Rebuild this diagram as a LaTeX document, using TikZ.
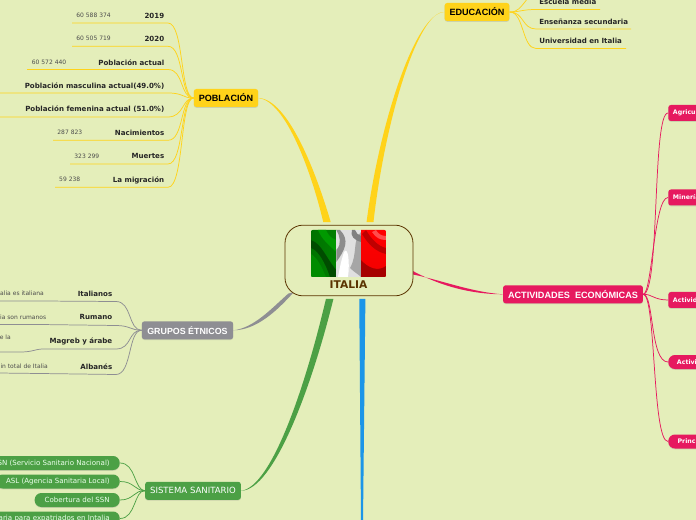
\documentclass[tikz,border=0pt]{standalone}
\usepackage{fontspec}
\setmainfont{DejaVu Sans}
\newfontfamily\topicfont{Liberation Sans}
\usetikzlibrary{shadows}
\definecolor{paper}{HTML}{E4EEBA}
\definecolor{yellowtopic}{HTML}{FFD31A}
\definecolor{greytopic}{HTML}{8E8E93}
\definecolor{greentopic}{HTML}{4CA045}
\definecolor{pinktopic}{HTML}{E6195F}
\definecolor{bluetopic}{HTML}{1B95E8}
\definecolor{browntopic}{HTML}{5A3300}
\pgfdeclarelayer{paperlayer}
\pgfdeclarelayer{branchlayer}
\pgfsetlayers{paperlayer,branchlayer,main}

\begin{document}
\begin{tikzpicture}[
					x=0.75pt, y=-0.75pt,
					centre/.style={rectangle, draw=browntopic, line width=0.6pt, fill=paper, rounded corners=13.5pt, minimum width=96pt, minimum height=53pt},
					topic/.style={rectangle, rounded corners=2pt, minimum height=13.5pt, inner xsep=3.75pt, inner ysep=0pt, font=\topicfont\bfseries\fontsize{6.8pt}{8pt}\selectfont, drop shadow={shadow xshift=0pt, shadow yshift=-0.6pt, opacity=0.25}},
					label/.style={anchor=east, inner sep=0pt, yshift=0.4pt, text=black!85, font=\bfseries\fontsize{5.3pt}{6pt}\selectfont},
					value/.style={anchor=east, inner sep=0pt, yshift=0.3pt, text=black!70, font=\fontsize{4.5pt}{6pt}\selectfont},
					pillgreen/.style={rectangle, anchor=east, fill=greentopic, text=white!92!green, rounded corners=5pt, minimum height=10.5pt, inner xsep=7.5pt, inner ysep=0pt, font=\fontsize{5.3pt}{6pt}\selectfont, drop shadow={shadow xshift=0pt, shadow yshift=-0.6pt, opacity=0.25}},
					pinkbox/.style={rectangle, anchor=west, fill=pinktopic, text=white, text width=40pt, minimum height=12pt, inner xsep=3.5pt, inner ysep=0pt, font=\bfseries\fontsize{4.7pt}{6pt}\selectfont, drop shadow={shadow xshift=0pt, shadow yshift=-0.6pt, opacity=0.25}}
				]
				\path[use as bounding box] (0,0) rectangle (696,520);
				\begin{pgfonlayer}{paperlayer}
				\fill[paper] (0,0) rectangle (696,520);
				\end{pgfonlayer}
				\clip (0,0) rectangle (696,520);

				\node[centre] (italia) at (349,260.5) {};
				\node[inner sep=0pt, minimum width=56pt, minimum height=35pt] (flag) at (348.5,253.5) {};
				\node[inner sep=0pt, text=browntopic, font=\bfseries\fontsize{8pt}{9pt}\selectfont] (italiatext) at (348.5,285) {ITALIA};
				\begin{scope}
				\clip[rounded corners=1.5pt] (flag.south west) rectangle (flag.north east);
				\shade[left color=green!45!black, right color=green!50!black] (311,230) rectangle (336.3,277);
				\fill[green!30!black] (311,240) .. controls (322,244) and (326,258) .. (336.3,270) -- (336.3,277) -- (330,277) .. controls (325,262) and (318,250) .. (311,248) -- cycle;
				\fill[green!60!black] (318,230) .. controls (322,240) and (330,246) .. (336.3,252) -- (336.3,240) .. controls (330,238) and (328,234) .. (326,230) -- cycle;
				\fill[green!55!black] (311,254) .. controls (318,258) and (322,268) .. (326,277) -- (311,277) -- cycle;
				\fill[black!12] (336.3,230) rectangle (361,277);
				\fill[black!45] (340,230) .. controls (350,240) and (345,250) .. (336.3,262) -- (336.3,250) .. controls (342,244) and (340,236) .. (336.3,230) -- cycle;
				\fill[black!35] (361,232) .. controls (352,240) and (358,254) .. (350,268) .. controls (354,272) and (358,274) .. (361,277) -- cycle;
				\fill[white] (344,252) .. controls (348,246) and (350,262) .. (348,277) -- (338,277) .. controls (340,266) and (342,258) .. (344,252) -- cycle;
				\fill[black!50] (352,230) .. controls (350,236) and (354,240) .. (361,242) -- (361,236) .. controls (358,235) and (356,233) .. (355,230) -- cycle;
				\shade[top color=red, bottom color=red!95!black] (361,230) rectangle (386,277);
				\fill[red!65!black] (361,260) .. controls (368,268) and (378,272) .. (386,266) -- (386,277) -- (361,277) -- cycle;
				\fill[red!75!black] (366,230) .. controls (372,240) and (378,246) .. (386,248) -- (386,254) .. controls (376,252) and (368,244) .. (362,234) -- cycle;
				\fill[red!70!white] (372,232) .. controls (376,238) and (380,240) .. (386,240) -- (386,236) .. controls (382,236) and (378,234) .. (376,230) -- cycle;
				\end{scope}

				\coordinate (cpoblacion) at ([xshift=-16.5pt]italia.north);
				\coordinate (ceducacion) at ([xshift=15.75pt]italia.north);
				\coordinate (cgrupos) at ([xshift=-43.5pt, yshift=5pt]italia.south);
				\coordinate (csistema) at ([xshift=-14.5pt]italia.south);
				\coordinate (cactividades) at ([yshift=-8.6pt]italia.east);
				\coordinate (cfondo) at ([xshift=10pt]italia.south);
				\coordinate (efondo) at (363,522);

				\node[topic, fill=yellowtopic, text=black] (poblacion) at (226,98) {POBLACIÓN};
				\node[topic, fill=yellowtopic, text=black] (educacion) at (477,12) {EDUCACIÓN};
				\node[topic, fill=greytopic, text=white, font=\topicfont\bfseries\fontsize{6.65pt}{8pt}\selectfont, minimum width=68.5pt] (grupos) at (187.5,330.3) {GRUPOS ÉTNICOS};
				\node[topic, fill=greentopic, text=white, font=\fontsize{6.4pt}{8pt}\selectfont] (sistema) at (193,490.8) {SISTEMA SANITARIO};
				\node[topic, fill=pinktopic, text=white, font=\topicfont\bfseries\fontsize{6.85pt}{8pt}\selectfont] (actividades) at (573,294.3) {ACTIVIDADES\ \ ECONÓMICAS};

				\begin{pgfonlayer}{branchlayer}
				\fill[yellowtopic] (poblacion.east) .. controls (288,99) and (316,172) .. ([xshift=2.8pt,yshift=2pt]cpoblacion) -- ([xshift=-2.8pt,yshift=2pt]cpoblacion) .. controls (312,174) and (286,101) .. (poblacion.east) -- cycle;
				\fill[yellowtopic] (educacion.west) .. controls (418,11) and (385,120) .. ([xshift=2.6pt,yshift=2pt]ceducacion) -- ([xshift=-2.6pt,yshift=2pt]ceducacion) .. controls (380,120) and (416,13) .. (educacion.west) -- cycle;
				\fill[greytopic] (grupos.east) .. controls (256,330) and (276,312) .. ([xshift=2pt,yshift=-2pt]cgrupos) -- ([xshift=-2pt,yshift=-3pt]cgrupos) .. controls (272,308) and (254,328) .. (grupos.east) -- cycle;
				\fill[greentopic] (sistema.east) .. controls (274,490) and (312,386) .. ([xshift=2.8pt,yshift=-2pt]csistema) -- ([xshift=-2.8pt,yshift=-2pt]csistema) .. controls (306,384) and (272,487) .. (sistema.east) -- cycle;
				\fill[pinktopic] (actividades.west) .. controls (470,294) and (440,286) .. ([yshift=1.6pt,xshift=-2pt]cactividades) -- ([yshift=-1.6pt,xshift=-2pt]cactividades) .. controls (438,279) and (470,292) .. (actividades.west) -- cycle;
				\fill[bluetopic] (efondo) -- ([xshift=2.3pt,yshift=-2pt]cfondo) -- ([xshift=-2.3pt,yshift=-2pt]cfondo) -- ([xshift=-1.5pt]efondo) -- cycle;
				\end{pgfonlayer}

				\node[label] (l2019) at (164.5,16) {2019};
				\node[label] (l2020) at (164.5,39.5) {2020};
				\node[label] (lactual) at (164.5,63) {Población actual};
				\node[label] (lmasculina) at (164.5,86.5) {Población masculina actual(49.0\%)};
				\node[label] (lfemenina) at (164.5,110) {Población femenina actual (51.0\%)};
				\node[label] (lnacimientos) at (164.5,133.5) {Nacimientos};
				\node[label] (lmuertes) at (164.5,157) {Muertes};
				\node[label] (lmigracion) at (164.5,180.5) {La migración};
				\node[value] (v2019) at (111,15.5) {60 588 374};
				\node[value] (v2020) at (111,39) {60 505 719};
				\node[value] (vactual) at (66.5,62.5) {60 572 440};
				\node[value] (vnacimientos) at (82.5,133) {287 823};
				\node[value] (vmuertes) at (99.5,156.5) {323 299};
				\node[value] (vmigracion) at (80.5,180) {59 238};

				\coordinate (e2019) at (72,23);
				\coordinate (e2020) at (72,46.3);
				\coordinate (eactual) at (27,69.5);
				\coordinate (emasculina) at (-2,93);
				\coordinate (efemenina) at (-2,117);
				\coordinate (enacimientos) at (53,140.3);
				\coordinate (emuertes) at (70,164);
				\coordinate (emigracion) at (55,187.3);
				\begin{scope}[draw=yellowtopic, line width=0.55pt]
				\draw (poblacion.west) .. controls (180,98) and (184,23) .. (168,23) -- (e2019);
				\draw (poblacion.west) .. controls (180,98) and (184,46.3) .. (168,46.3) -- (e2020);
				\draw (poblacion.west) .. controls (180,98) and (184,69.5) .. (168,69.5) -- (eactual);
				\draw (poblacion.west) .. controls (182,98) and (184,93) .. (168,93) -- (emasculina);
				\draw (poblacion.west) .. controls (182,98) and (184,117) .. (168,117) -- (efemenina);
				\draw (poblacion.west) .. controls (180,98) and (184,140.3) .. (168,140.3) -- (enacimientos);
				\draw (poblacion.west) .. controls (180,98) and (184,164) .. (168,164) -- (emuertes);
				\draw (poblacion.west) .. controls (180,98) and (184,187.3) .. (168,187.3) -- (emigracion);
				\end{scope}

				\node[label, anchor=west] (lescuela) at (539,2) {Escuela media};
				\node[label, anchor=west] (lsecundaria) at (539,22) {Enseñanza secundaria};
				\node[label, anchor=west] (luniversidad) at (539,41) {Universidad en Italia};
				\coordinate (eprimaria) at (528,-2);
				\coordinate (eescuela) at (600,9.5);
				\coordinate (esecundaria) at (631,29);
				\coordinate (euniversidad) at (626,48.5);
				\begin{scope}[draw=yellowtopic, line width=0.55pt]
				\draw (educacion.east) .. controls (518,12) and (520,8) .. (eprimaria);
				\draw (educacion.east) .. controls (520,12) and (522,9.5) .. (536,9.5) -- (eescuela);
				\draw (educacion.east) .. controls (524,12) and (522,29) .. (536,29) -- (esecundaria);
				\draw (educacion.east) .. controls (524,12) and (522,48.5) .. (536,48.5) -- (euniversidad);
				\end{scope}

				\node[label] (litalianos) at (112.5,294) {Italianos};
				\node[label] (lrumano) at (112.5,317.5) {Rumano};
				\node[label] (lmagreb) at (112.5,341.5) {Magreb y árabe};
				\node[label] (lalbanes) at (112.5,367) {Albanés};
				\node[value] (vitalianos) at (44,294) {alia es italiana};
				\node[value] (vrumano) at (46.5,317.3) {ia son rumanos};
				\node[value] (vmagreb) at (11,337.5) {e la};
				\node[value] (valbanes) at (48,367) {in total de Italia};
				\coordinate (eitalianos) at (-2,301);
				\coordinate (erumano) at (-2,324.5);
				\coordinate (emagreb) at (-2,352);
				\coordinate (ealbanes) at (-2,373);
				\begin{scope}[draw=greytopic, line width=0.55pt]
				\draw (grupos.west) .. controls (128,330) and (132,301.5) .. (116,301.5) -- (40,301) -- (eitalianos);
				\draw (grupos.west) .. controls (130,330) and (130,325.5) .. (116,325.5) -- (40,324.5) -- (erumano);
				\draw (grupos.west) .. controls (128,330) and (132,349) .. (116,349) -- (44,349) .. controls (34,349) and (34,352) .. (20,352) -- (emagreb);
				\draw (grupos.west) .. controls (128,330) and (132,374.5) .. (116,374.5) -- (40,373.5) -- (ealbanes);
				\end{scope}

				\node[pillgreen] (ssn) at (120,463) {SN (Servicio Sanitario Nacional)};
				\node[pillgreen] (asl) at (120,481.5) {ASL (Agencia Sanitaria Local)};
				\node[pillgreen] (cobertura) at (120,500) {Cobertura del SSN};
				\node[pillgreen] (expatriados) at (120,518.5) {aria para expatriados en Intalia};
				\begin{scope}[draw=greentopic, line width=0.55pt]
				\draw (sistema.west) .. controls (134,490) and (136,463) .. (ssn.east);
				\draw (sistema.west) .. controls (134,490) and (134,481.5) .. (asl.east);
				\draw (sistema.west) .. controls (134,490) and (134,500) .. (cobertura.east);
				\draw (sistema.west) .. controls (134,490) and (136,518.5) .. (expatriados.east);
				\end{scope}

				\node[pinkbox, rounded corners=2pt] (agricultura) at (668,113) {Agricul};
				\node[pinkbox, rounded corners=2pt] (mineria) at (668,197.5) {Minería};
				\node[pinkbox, rounded corners=2pt] (actividadb) at (668,300) {Activid};
				\node[pinkbox, rounded corners=5pt, text width=36pt, inner xsep=6.5pt, minimum height=10.5pt] (actividadc) at (668,362) {Activi};
				\node[pinkbox, rounded corners=5pt, text width=36pt, inner xsep=7pt, minimum height=10.5pt] (principales) at (668,441.5) {Princ};
				\begin{scope}[draw=pinktopic, line width=0.55pt]
				\draw (actividades.east) .. controls (660,294) and (652,113) .. (agricultura.west);
				\draw (actividades.east) .. controls (652,294) and (654,197.5) .. (mineria.west);
				\draw (actividades.east) .. controls (652,294) and (654,300) .. (actividadb.west);
				\draw (actividades.east) .. controls (654,294) and (650,362) .. (actividadc.west);
				\draw (actividades.east) .. controls (656,294) and (652,441.5) .. (principales.west);
				\end{scope}
				\end{tikzpicture}
\end{document}
